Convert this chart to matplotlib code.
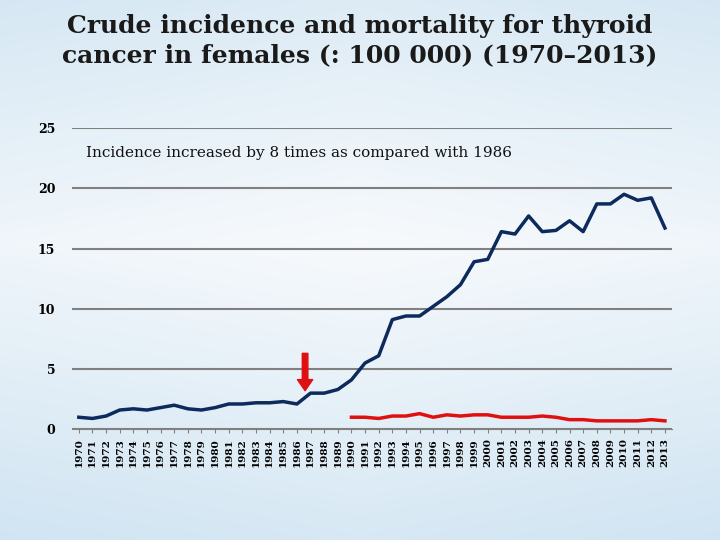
import matplotlib
matplotlib.use("Agg")
import matplotlib.pyplot as plt
import numpy as np

years = list(range(1970, 2014))
incidence = [1.0,0.9,1.1,1.6,1.7,1.6,1.8,2.0,1.7,1.6,1.8,2.1,2.1,2.2,2.2,2.3,2.1,3.0,3.0,3.3,
             4.1,5.5,6.1,9.1,9.4,9.4,10.2,11.0,12.0,13.9,14.1,16.4,16.2,17.7,16.4,16.5,17.3,16.4,
             18.7,18.7,19.5,19.0,19.2,16.7]
mort_years = list(range(1990, 2014))
mortality = [1.0,1.0,0.9,1.1,1.1,1.3,1.0,1.2,1.1,1.2,1.2,1.0,1.0,1.0,1.1,1.0,0.8,0.8,0.7,0.7,0.7,0.7,0.8,0.7]

fig = plt.figure(figsize=(7.2, 5.4), dpi=100)
bg = fig.add_axes([0, 0, 1, 1], zorder=-10)
yy, xx = np.mgrid[0:1:200j, 0:1:200j]
g = 0.55 + 0.45 * np.clip(1 - np.abs(yy - 0.45) * 1.2 - 0.3 * np.abs(xx - 0.5), 0, 1)
img = np.dstack([0.55 + 0.42 * g, 0.75 + 0.23 * g, 0.88 + 0.11 * g])
bg.imshow(np.clip(img, 0, 1), aspect='auto', extent=[0, 1, 0, 1])
bg.axis('off')

fig.text(0.5, 0.925, "Crude incidence and mortality for thyroid\ncancer in females (: 100 000) (1970–2013)",
         ha='center', va='center', fontsize=18, fontweight='bold', family='DejaVu Serif', color='#1a1a1a',
         linespacing=1.25)

ax = fig.add_axes([0.1, 0.205, 0.833, 0.558])
ax.patch.set_alpha(0)
ax.plot(years, incidence, color='#0d2a5c', lw=2.5)
ax.plot(mort_years, mortality, color='#e01010', lw=2.5)
ax.set_ylim(0, 25)
ax.set_xlim(1969.5, 2013.5)
ax.set_yticks([0, 5, 10, 15, 20, 25])
ax.yaxis.grid(True, color='#808080', lw=1.5)
ax.set_axisbelow(True)
ax.set_xticks(years)
ax.set_xticklabels([str(y) for y in years], rotation=90, fontsize=7.5, fontweight='bold', family='DejaVu Serif')
for lbl in ax.get_yticklabels():
    lbl.set_fontweight('bold'); lbl.set_family('DejaVu Serif'); lbl.set_fontsize(9)
for s in ['top', 'right', 'left']:
    ax.spines[s].set_visible(False)
ax.spines['bottom'].set_color('#808080')
ax.tick_params(axis='y', length=0, pad=12)
ax.tick_params(axis='x', length=3, color='#808080')
ax.text(1970.5, 22.6, "Incidence increased by 8 times as compared with 1986", fontsize=11,
        family='DejaVu Serif', color='#111111')
ax.annotate('', xy=(1986.6, 3.2), xytext=(1986.6, 6.3),
            arrowprops=dict(facecolor='#e01010', edgecolor='#e01010', width=4, headwidth=11, headlength=8))
fig.savefig("out.png", dpi=100)
